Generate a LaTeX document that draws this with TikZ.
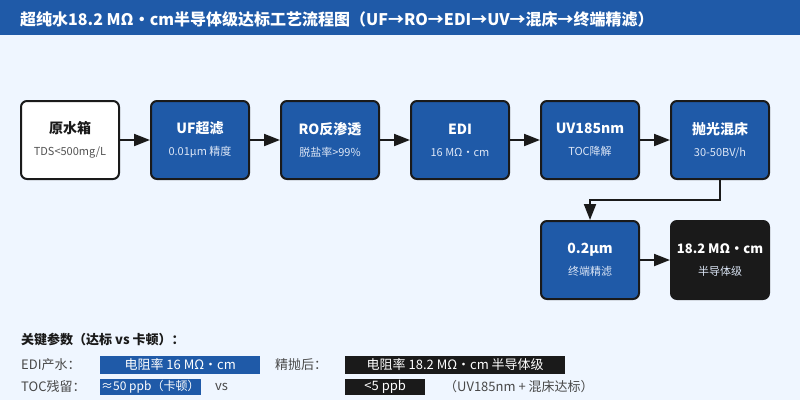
\documentclass[tikz,border=0pt]{standalone}
\usepackage{fontspec}
\setmainfont{Noto Sans CJK SC}
\usepackage{xcolor}
\usetikzlibrary{arrows.meta,positioning}

\definecolor{flow}{HTML}{1F5AA8}
\definecolor{ink}{HTML}{1A1A1A}
\definecolor{paper}{HTML}{EFF6FF}
\definecolor{soft}{HTML}{DCE6F6}
\newcommand{\stname}[1]{{\fontsize{14}{16}\selectfont\bfseries #1}}

\begin{document}
\begin{tikzpicture}[x=1pt, y=-1pt,
  stage/.style={draw=ink, line width=2pt, rounded corners=6pt, fill=flow, text=white,
                minimum width=98pt, minimum height=78pt, align=center, inner sep=0pt,
                font=\fontsize{11}{22}\selectfont},
  raw/.style={stage, fill=white, text=ink},
  done/.style={stage, fill=ink},
  arr/.style={-{Triangle[length=16pt, width=12pt]}, line width=2pt, draw=ink},
  key/.style={anchor=west, inner sep=0pt, text=ink!80, font=\fontsize{13}{15}\selectfont},
  bar/.style={anchor=west, inner sep=1pt, minimum height=14pt, text=white,
              font=\fontsize{13}{15}\selectfont}
]
\fill[paper] (0,0) rectangle (800,400);
\fill[flow] (0,0) rectangle (800,35);

\node[anchor=west, inner sep=0pt, text=white, font=\fontsize{16}{19}\selectfont\bfseries] (title) at (20,19)
  {超纯水18.2 MΩ・cm半导体级达标工艺流程图（UF→RO→EDI→UV→混床→终端精滤）};

% main line
\node[raw] (tank) at (70,140) {\stname{原水箱}\\{\color{ink!75}TDS<500mg/L}};
\node[stage, right=30pt of tank] (uf) {\stname{UF超滤}\\{\color{soft}0.01μm 精度}};
\node[stage, right=30pt of uf] (ro) {\stname{RO反渗透}\\{\color{soft}脱盐率>99\%}};
\node[stage, right=30pt of ro] (edi) {\stname{EDI}\\{\color{soft}16 MΩ・cm}};
\node[stage, right=30pt of edi] (uv) {\stname{UV185nm}\\{\color{soft}TOC降解}};
\node[stage, right=30pt of uv] (polish) {\stname{抛光混床}\\{\color{soft}30-50BV/h}};
\node[stage, below=40pt of uv] (filter) {\stname{0.2μm}\\{\color{soft}终端精滤}};
\node[done, right=30pt of filter] (final) {{\fontsize{13}{16}\selectfont\bfseries 18.2 MΩ・cm}\\{\color{soft}半导体级}};

\draw[arr] (tank) -- (uf);
\draw[arr] (uf) -- (ro);
\draw[arr] (ro) -- (edi);
\draw[arr] (edi) -- (uv);
\draw[arr] (uv) -- (polish);
\draw[arr] (polish.south) -- ++(0,20) -| (filter.north);
\draw[arr] (filter) -- (final);

% key figures
\node[anchor=west, inner sep=0pt, text=ink, font=\fontsize{13}{15}\selectfont\bfseries] (keyhead) at (21,340)
  {关键参数（达标 vs 卡顿）：};
\node[key] (edikey) at (21,365) {EDI产水：};
\node[bar, fill=flow, minimum width=160pt, minimum height=18pt] (edibar) at (100,365) {电阻率 16 MΩ・cm};
\node[key] (polkey) at (275,365) {精抛后：};
\node[bar, fill=ink, minimum width=220pt, minimum height=18pt] (polbar) at (345,365) {电阻率 18.2 MΩ・cm 半导体级};
\node[key] (tockey) at (21,387) {TOC残留：};
\node[bar, fill=flow, minimum width=100pt, font=\fontsize{12}{14}\selectfont] (tocbar) at (100,387) {≈50 ppb（卡顿）};
\node[key] (vs) at (215,387) {vs};
\node[bar, fill=ink, minimum width=80pt] (tocok) at (345,387) {<5 ppb};
\node[key] (tocnote) at (444,387) {（UV185nm + 混床达标）};
\end{tikzpicture}
\end{document}
